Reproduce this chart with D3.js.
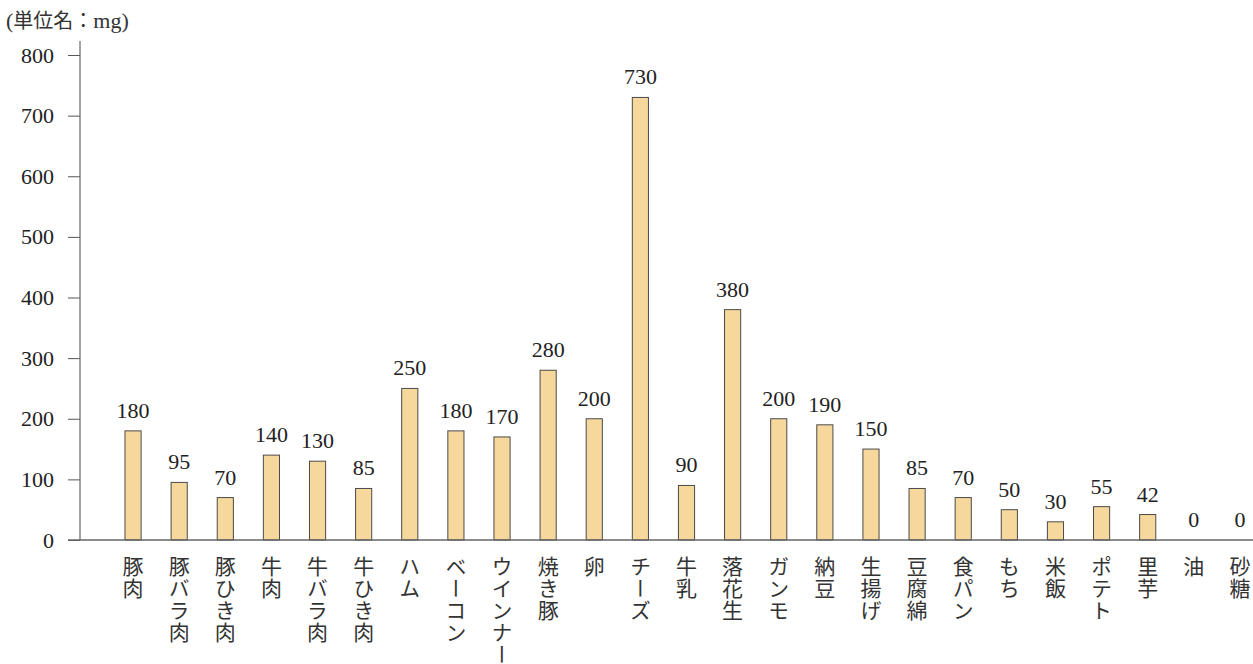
<!DOCTYPE html>
<html>
<head>
<meta charset="utf-8">
<script src="https://cdn.jsdelivr.net/npm/d3@7"></script>
<style>
  body { margin: 0; background: #fff; }
</style>
</head>
<body>
<svg id="chart"></svg>
<script>
// food items and their amounts (mg)
const foods = ["豚肉", "豚バラ肉", "豚ひき肉", "牛肉", "牛バラ肉", "牛ひき肉", "ハム", "ベーコン",
  "ウインナー", "焼き豚", "卵", "チーズ", "牛乳", "落花生", "ガンモ", "納豆", "生揚げ", "豆腐綿",
  "食パン", "もち", "米飯", "ポテト", "里芋", "油", "砂糖"];
const amounts = [180, 95, 70, 140, 130, 85, 250, 180, 170, 280, 200, 730, 90, 380, 200, 190, 150,
  85, 70, 50, 30, 55, 42, 0, 0];
const yTicks = [0, 100, 200, 300, 400, 500, 600, 700, 800];
const unitLabel = ["(", "単位名：", "mg)"];

const serif = "'Liberation Serif', 'DejaVu Serif', serif";
const jpFont = "'Noto Sans CJK JP', sans-serif";

const width = 1253, height = 664;
const y0 = 540, yTop = 55;

const svg = d3.select("#chart").attr("width", width).attr("height", height);

const data = foods.map((f, i) => ({ name: f, value: amounts[i] }));

const x = d3.scaleBand().domain(foods).range([110, 1263]).paddingInner(0.65).paddingOuter(0.325);
const y = d3.scaleLinear().domain([0, 800]).range([y0, yTop]);

// unit label
const unit = svg.append("text")
  .attr("x", 6)
  .attr("y", 28)
  .style("font-size", "20px")
  .style("fill", "#333");
unit.append("tspan").style("font-family", serif).style("font-size", "22px").text(unitLabel[0]);
unit.append("tspan").style("font-family", jpFont).text(unitLabel[1]);
unit.append("tspan").style("font-family", serif).style("font-size", "22px").text(unitLabel[2]);

// y axis
const yAxis = d3.axisLeft(y).tickValues(yTicks).tickSize(12).tickPadding(14);
const yAxisG = svg.append("g").attr("transform", "translate(80,0)").call(yAxis);
yAxisG.select(".domain").remove();
yAxisG.selectAll(".tick line").attr("stroke", "#555");
yAxisG.selectAll(".tick text")
  .style("font-family", serif)
  .style("font-size", "22px")
  .style("fill", "#222");

svg.append("line")
  .attr("x1", 80).attr("x2", 80)
  .attr("y1", 41).attr("y2", y0)
  .attr("stroke", "#666").attr("stroke-width", 1.2);

// bars
svg.selectAll(".bar")
  .data(data.filter(d => d.value > 0))
  .enter()
  .append("rect")
  .attr("class", "bar")
  .attr("x", d => x(d.name))
  .attr("y", d => y(d.value))
  .attr("width", x.bandwidth())
  .attr("height", d => y0 - y(d.value))
  .attr("fill", "#f7d89c")
  .attr("stroke", "#4a4a4a")
  .attr("stroke-width", 1);

// baseline
svg.append("line")
  .attr("x1", 68).attr("x2", width)
  .attr("y1", y0).attr("y2", y0)
  .attr("stroke", "#666").attr("stroke-width", 1.5);

// value labels
svg.selectAll(".val")
  .data(data)
  .enter()
  .append("text")
  .attr("x", d => x(d.name) + x.bandwidth() / 2)
  .attr("y", d => y(d.value) - 13)
  .attr("text-anchor", "middle")
  .style("font-family", serif)
  .style("font-size", "22px")
  .style("fill", "#222")
  .text(d => d.value);

// vertical category labels
svg.selectAll(".cat")
  .data(data)
  .enter()
  .append("text")
  .attr("x", d => x(d.name) + x.bandwidth() / 2)
  .attr("y", 556)
  .style("font-family", jpFont)
  .style("font-size", "21px")
  .style("fill", "#333")
  .style("writing-mode", "vertical-rl")
  .style("text-orientation", "upright")
  .style("letter-spacing", "1px")
  .text(d => d.name);
</script>
</body>
</html>
